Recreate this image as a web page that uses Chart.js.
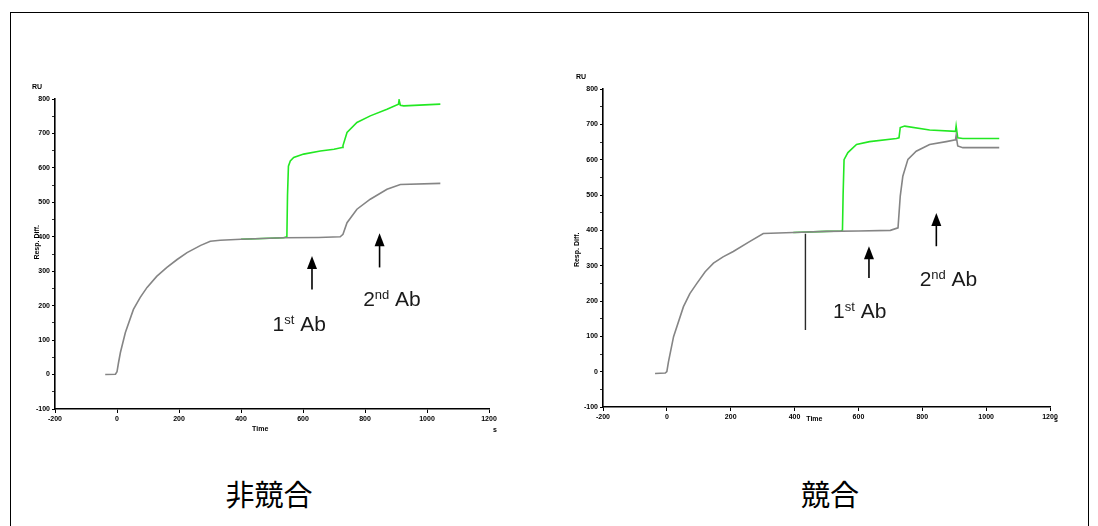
<!DOCTYPE html>
<html>
<head>
<meta charset="utf-8">
<script src="https://cdn.jsdelivr.net/npm/chart.js@4"></script>
<style>
  body { margin: 0; background: #fff; width: 1098px; height: 526px; overflow: hidden; position: relative; }
  .frame { position: absolute; left: 10px; top: 12px; width: 1077px; height: 600px; border: 1px solid #000; }
  #leftChart { position: absolute; left: 0; top: 0; }
  #rightChart { position: absolute; left: 548px; top: 0; }
  .cap { position: absolute; top: 476px; width: 200px; text-align: center; color: #000;
         font-family: "Noto Sans CJK JP", sans-serif; font-size: 29px; line-height: 34px; }
</style>
</head>
<body>
<div class="frame"></div>
<canvas id="leftChart" width="540" height="450"></canvas>
<canvas id="rightChart" width="550" height="450"></canvas>
<div class="cap" style="left:169px">非競合</div>
<div class="cap" style="left:730px">競合</div>

<script>
// Non-competitive run (left)
const leftGrayTime = [-38, -5, 0, 5, 11, 27, 53, 75, 97, 128, 161, 194, 226, 270, 301, 333, 400, 537, 650, 720, 729, 742, 774, 817, 871, 914, 1043];
const leftGrayRU   = [0, 1, 8, 35, 64, 122, 189, 224, 253, 285, 311, 334, 354, 375, 387, 390, 393, 397, 398, 400, 407, 441, 480, 509, 538, 552, 555];
const leftGreenTime = [400, 537, 548, 550, 553, 559, 570, 602, 656, 700, 726, 729, 742, 774, 817, 871, 908, 910, 914, 925, 1043];
const leftGreenRU   = [393, 397, 400, 520, 605, 620, 630, 640, 649, 654, 659, 665, 703, 732, 751, 770, 785, 797, 782, 780, 785];

// Competitive run (right)
const rightGrayTime = [-37, -5, 0, 5, 21, 52, 72, 94, 120, 146, 176, 208, 255, 302, 396, 500, 600, 700, 724, 731, 739, 755, 781, 823, 875, 904, 906, 911, 927, 1041];
const rightGrayRU   = [-5, -4, 0, 28, 99, 184, 221, 250, 283, 307, 325, 340, 366, 391, 394, 397, 398, 400, 407, 497, 553, 601, 624, 643, 651, 656, 668, 639, 634, 634];
const rightGreenTime = [396, 500, 545, 550, 552, 555, 567, 594, 635, 719, 727, 731, 745, 823, 904, 906, 911, 927, 1041];
const rightGreenRU   = [394, 397, 398, 400, 500, 600, 620, 643, 651, 660, 662, 691, 695, 684, 680, 695, 662, 660, 660];
const rightMarkTime = [434, 434];
const rightMarkRU   = [390, 118];

// arrows: time, tail RU, tip RU
const leftArrowTime = [629, 847];
const leftArrowFrom = [247, 311];
const leftArrowTo   = [344, 410];
const leftLabelTime = [588, 887];
const leftLabelRU   = [126, 198];
const rightArrowTime = [633, 844];
const rightArrowFrom = [265, 355];
const rightArrowTo   = [355, 449];
const rightLabelTime = [604, 882];
const rightLabelRU   = [151, 243];
const labelOrd = ['1', '2'];
const labelSup = ['st', 'nd'];

const xTicks = [-200, 0, 200, 400, 600, 800, 1000, 1200];

const pts = (xs, ys) => xs.map((x, i) => ({ x, y: ys[i] }));

const notes = {
  id: 'notes',
  afterDraw(chart, args, o) {
    const { ctx, chartArea: a, scales: { x, y } } = chart;
    ctx.save();
    ctx.fillStyle = '#000';
    ctx.font = 'bold 7px "Liberation Sans"';
    ctx.textAlign = 'center';
    ctx.textBaseline = 'middle';
    ctx.fillText('RU', a.left - o.ruDx, a.top - 12);
    ctx.fillText('Time', x.getPixelForValue(462), a.bottom + o.timeDy);
    ctx.fillText('s', a.right + 6, a.bottom + o.timeDy + 1);
    ctx.save();
    ctx.translate(a.left - o.respDx, y.getPixelForValue(o.respAt));
    ctx.rotate(-Math.PI / 2);
    ctx.fillText('Resp. Diff.', 0, 0);
    ctx.restore();

    // arrows
    ctx.strokeStyle = '#000';
    ctx.lineWidth = 1.6;
    o.arrowTime.forEach((t, i) => {
      const px = x.getPixelForValue(t);
      const tail = y.getPixelForValue(o.arrowFrom[i]);
      const tip = y.getPixelForValue(o.arrowTo[i]);
      ctx.beginPath();
      ctx.moveTo(px, tail);
      ctx.lineTo(px, tip + 10);
      ctx.stroke();
      ctx.beginPath();
      ctx.moveTo(px, tip);
      ctx.lineTo(px - 5, tip + 13);
      ctx.lineTo(px + 5, tip + 13);
      ctx.closePath();
      ctx.fill();
    });

    // "1st Ab" / "2nd Ab"
    ctx.fillStyle = '#1a1a1a';
    ctx.textAlign = 'left';
    ctx.textBaseline = 'alphabetic';
    o.labelTime.forEach((t, i) => {
      const big = '21px "Liberation Sans"', small = '13px "Liberation Sans"';
      ctx.font = big;
      const w1 = ctx.measureText(labelOrd[i]).width;
      const w3 = ctx.measureText(' Ab').width;
      ctx.font = small;
      const w2 = ctx.measureText(labelSup[i]).width;
      let cx = x.getPixelForValue(t) - (w1 + w2 + w3) / 2;
      const by = y.getPixelForValue(o.labelRU[i]);
      ctx.font = big;
      ctx.fillText(labelOrd[i], cx, by);
      cx += w1;
      ctx.font = small;
      ctx.fillText(labelSup[i], cx, by - 7);
      cx += w2;
      ctx.font = big;
      ctx.fillText(' Ab', cx, by);
    });
    ctx.restore();
  }
};

const tickFont = { size: 7, weight: 'bold', family: 'Liberation Sans' };

function makeChart(id, datasets, pad, extra) {
  return new Chart(document.getElementById(id), {
    type: 'line',
    data: { datasets },
    options: {
      responsive: false,
      animation: false,
      layout: { padding: pad },
      elements: { point: { radius: 0 }, line: { tension: 0, borderWidth: 1.6 } },
      scales: {
        x: {
          type: 'linear', min: -200, max: 1200,
          afterFit: s => { s.height = 20; },
          afterBuildTicks: s => { s.ticks = xTicks.map(v => ({ value: v })); },
          ticks: { font: tickFont, color: '#000', padding: 2, maxRotation: 0, callback: v => String(v) },
          grid: { drawOnChartArea: false, tickLength: 4, color: '#000', tickWidth: 1 },
          border: { color: '#000', width: 1.6 }
        },
        y: {
          min: -100, max: 800,
          afterFit: s => { s.width = 30; },
          ticks: {
            stepSize: 50, autoSkip: false,
            callback: v => v % 100 === 0 ? String(v) : '',
            font: tickFont, color: '#000', padding: 2
          },
          grid: { drawOnChartArea: false, tickLength: 3, color: '#000',
                  tickWidth: c => (c.tick && c.tick.value % 100 === 0) ? 1.2 : 0.8 },
          border: { color: '#000', width: 1.6 }
        }
      },
      plugins: { legend: { display: false }, tooltip: { enabled: false }, notes: extra }
    },
    plugins: [notes]
  });
}

makeChart('leftChart', [
  { data: pts(leftGrayTime, leftGrayRU), borderColor: '#858585', order: 0 },
  { data: pts(leftGreenTime, leftGreenRU), borderColor: '#22e822', order: 1 }
], { left: 25, top: 99, right: 51, bottom: 21 }, {
  ruDx: 18, timeDy: 20, respDx: 18, respAt: 384,
  arrowTime: leftArrowTime, arrowFrom: leftArrowFrom, arrowTo: leftArrowTo,
  labelTime: leftLabelTime, labelRU: leftLabelRU
});

makeChart('rightChart', [
  { data: pts(rightGrayTime, rightGrayRU), borderColor: '#858585', order: 0 },
  { data: pts(rightGreenTime, rightGreenRU), borderColor: '#22e822', order: 1 },
  { data: pts(rightMarkTime, rightMarkRU), borderColor: '#2a2a2a', borderWidth: 1.4, order: 2 }
], { left: 25, top: 89, right: 48, bottom: 23 }, {
  ruDx: 22, timeDy: 12, respDx: 26, respAt: 345,
  arrowTime: rightArrowTime, arrowFrom: rightArrowFrom, arrowTo: rightArrowTo,
  labelTime: rightLabelTime, labelRU: rightLabelRU
});
</script>
</body>
</html>
